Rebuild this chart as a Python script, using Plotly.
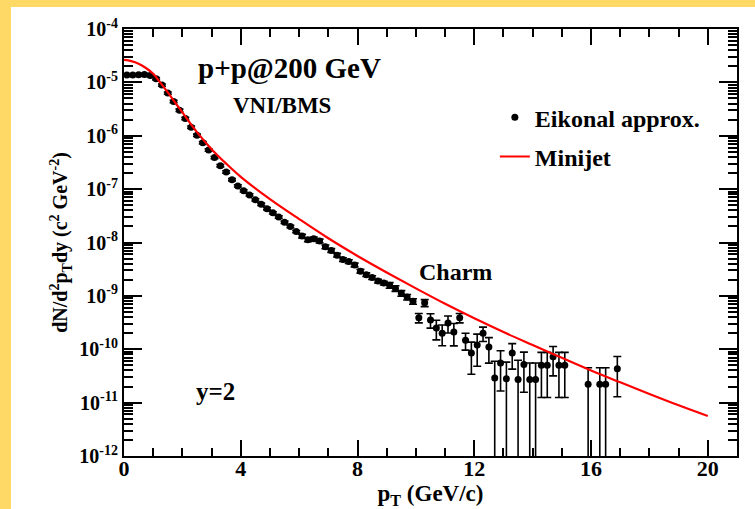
import plotly.graph_objects as go

# ---- Eikonal approx. (points with error bars) ----
pt_eik = [0.1, 0.3, 0.5, 0.7, 0.9, 1.1, 1.3, 1.5, 1.7, 1.9,
          2.1, 2.3, 2.5, 2.7, 2.9, 3.1, 3.3, 3.5, 3.7, 3.9,
          4.1, 4.3, 4.5, 4.7, 4.9, 5.1, 5.3, 5.5, 5.7, 5.9,
          6.1, 6.3, 6.5, 6.7, 6.9, 7.1, 7.3, 7.5, 7.7, 7.9,
          8.1, 8.3, 8.5, 8.7, 8.9, 9.1, 9.3, 9.5, 9.7, 9.9,
          10.1, 10.3, 10.5, 10.7, 10.9, 11.1, 11.3, 11.5, 11.7, 11.9,
          12.1, 12.3, 12.5, 12.7, 12.9, 13.1, 13.3, 13.5, 13.7, 13.9,
          14.1, 14.3, 14.5, 14.7, 14.9, 15.1, 15.9, 16.3, 16.5, 16.9]
yield_eik = [1.38e-5, 1.38e-5, 1.39e-5, 1.41e-5, 1.35e-5, 1.17e-5, 8.9e-6, 6.3e-6, 4.4e-6, 3.0e-6,
             2.1e-6, 1.45e-6, 1.02e-6, 7.4e-7, 5.4e-7, 3.9e-7, 2.75e-7, 2.1e-7, 1.5e-7, 1.15e-7,
             9.3e-8, 7.8e-8, 6.3e-8, 5.2e-8, 4.3e-8, 3.6e-8, 3.0e-8, 2.4e-8, 2.0e-8, 1.6e-8,
             1.32e-8, 1.12e-8, 1.17e-8, 1.07e-8, 8.3e-9, 7.1e-9, 5.8e-9, 4.8e-9, 4.4e-9, 3.8e-9,
             2.9e-9, 2.5e-9, 2.2e-9, 1.9e-9, 1.74e-9, 1.58e-9, 1.38e-9, 1.12e-9, 9.5e-10, 7.9e-10,
             3.9e-10, 7.4e-10, 3.55e-10, 2.5e-10, 2.0e-10, 3.1e-10, 2.1e-10, 3.9e-10, 1.48e-10, 8.5e-11,
             1.2e-10, 2.0e-10, 1.1e-10, 2.9e-11, 5.5e-11, 2.8e-11, 8.5e-11, 2.7e-11, 5.2e-11, 2.7e-11,
             2.7e-11, 5.0e-11, 5.0e-11, 7.2e-11, 5.0e-11, 5.0e-11, 2.2e-11, 2.2e-11, 2.2e-11, 4.3e-11]
rel_err_eik = [0.05] * 30 + [0.08] * 15 + [0.12] * 5 + \
              [0.2, 0.15, 0.3, 0.4, 0.42, 0.35, 0.45, 0.2, 0.35, 0.6,
               0.6, 0.3, 0.5, 1.05, 0.7, 1.05, 0.5, 1.3, 0.7, 1.05,
               1.05, 0.75, 0.75, 0.56, 0.75, 0.75, 1.05, 1.05, 1.05, 0.7]
err_eik = [v * r for v, r in zip(yield_eik, rel_err_eik)]

# ---- Minijet curve ----
pt_mj = [0, 0.25, 0.5, 0.75, 1.0, 1.25, 1.5, 1.75, 2.0, 2.5, 3.0, 3.5, 4.0,
         5.0, 6.0, 7.0, 8.0, 9.0, 10.0, 11.0, 12.0, 13.0, 14.0, 15.0, 16.0,
         17.0, 18.0, 19.0, 20.0]
yield_mj = [2.63e-5, 2.5e-5, 2.24e-5, 1.86e-5, 1.45e-5, 9.8e-6, 6.5e-6, 4.2e-6, 2.75e-6,
            1.17e-6, 5.6e-7, 3.0e-7, 1.7e-7, 6.5e-8, 2.75e-8, 1.2e-8, 5.6e-9, 2.75e-9,
            1.38e-9, 7.1e-10, 3.8e-10, 2.1e-10, 1.2e-10, 6.9e-11, 4.0e-11, 2.4e-11,
            1.45e-11, 8.9e-12, 5.6e-12]

x_ticks = [0, 4, 8, 12, 16, 20]
y_exps = [-12, -11, -10, -9, -8, -7, -6, -5, -4]
y_ticktext = ["10<sup>%d</sup>" % e for e in y_exps]

FONT = "Liberation Serif"
YELLOW = "#FFD966"

fig = go.Figure()
fig.add_trace(go.Scatter(
    x=pt_eik, y=yield_eik, mode="markers", name="Eikonal approx.",
    legendgroup="a",
    marker=dict(color="black", size=7, symbol="circle"),
    error_y=dict(type="data", array=err_eik, visible=True, color="black",
                 thickness=1.6, width=4),
))
fig.add_trace(go.Scatter(
    x=pt_mj, y=yield_mj, mode="lines", name="Minijet", legendgroup="b",
    line=dict(color="#ff0000", width=2.2, shape="spline"),
))

minor_y = [k * 10.0 ** d for d in range(-12, -4) for k in range(2, 10)]

fig.update_xaxes(
    range=[0, 21], tickvals=x_ticks, ticks="inside", ticklen=16, tickwidth=1.5,
    tickcolor="black", showline=True, linecolor="black", linewidth=2,
    mirror="allticks", showgrid=False, zeroline=False, automargin=False,
    ticklabelstandoff=-8,
    tickfont=dict(family=FONT, size=22, color="black", weight="bold"),
    minor=dict(ticks="inside", ticklen=8, tickwidth=1.5, tickcolor="black",
               dtick=1, tick0=0, showgrid=False),
    title=dict(text="p<sub>T</sub> (GeV/c)", standoff=2,
               font=dict(family=FONT, size=23, color="black", weight="bold")),
)
fig.update_yaxes(
    type="log", range=[-12, -4], tickvals=[10.0 ** e for e in y_exps],
    ticktext=y_ticktext, ticks="inside", ticklen=18, tickwidth=1.5,
    tickcolor="black", showline=True, linecolor="black", linewidth=2,
    mirror="allticks", showgrid=False, zeroline=False, automargin=False,
    tickfont=dict(family=FONT, size=20, color="black", weight="bold"),
    minor=dict(ticks="inside", ticklen=9, tickwidth=1.5, tickcolor="black",
               tickvals=minor_y, showgrid=False),
    title=dict(text="dN/d<sup>2</sup>p<sub>T</sub>dy (c<sup>2</sup> GeV<sup>-2</sup>)",
               standoff=6,
               font=dict(family=FONT, size=20, color="black", weight="bold")),
)

ann_font = dict(family=FONT, color="black", weight="bold")
annotations = [
    dict(x=5.68, y=-4.73, text="p+p@200 GeV", font=dict(size=29, **ann_font)),
    dict(x=5.41, y=-5.44, text="VNI/BMS", font=dict(size=23, **ann_font)),
    dict(x=11.37, y=-8.55, text="Charm", font=dict(size=24, **ann_font)),
    dict(x=3.12, y=-10.80, text="y=2", font=dict(size=25, **ann_font)),
]
for a in annotations:
    a.update(xref="x", yref="y", showarrow=False, xanchor="center", yanchor="middle")

# yellow frame on the left and top edges of the picture (paper coords)
px_l = -124 / 613
py_t = 480 / 427
shapes = [
    dict(type="rect", xref="paper", yref="paper",
         x0=px_l, x1=(11 - 124) / 613, y0=-53 / 427, y1=py_t,
         fillcolor=YELLOW, line=dict(width=0), layer="below"),
    dict(type="rect", xref="paper", yref="paper",
         x0=px_l, x1=631 / 613, y0=(456 - 7) / 427, y1=py_t,
         fillcolor=YELLOW, line=dict(width=0), layer="below"),
]

fig.update_layout(
    width=755, height=509,
    margin=dict(l=124, r=18, t=29, b=53, autoexpand=False),
    paper_bgcolor="white", plot_bgcolor="white",
    annotations=annotations,
    shapes=shapes,
    legend=dict(x=0.605, y=0.845, xanchor="left", yanchor="top",
                bgcolor="rgba(0,0,0,0)", borderwidth=0, tracegroupgap=5,
                traceorder="grouped",
                font=dict(family=FONT, size=24, color="black", weight="bold")),
    showlegend=True,
)

fig.write_html(
    "out.html",
    config={"displayModeBar": False},
    post_script="document.body.style.margin='0px';document.body.style.overflow='hidden';",
)
